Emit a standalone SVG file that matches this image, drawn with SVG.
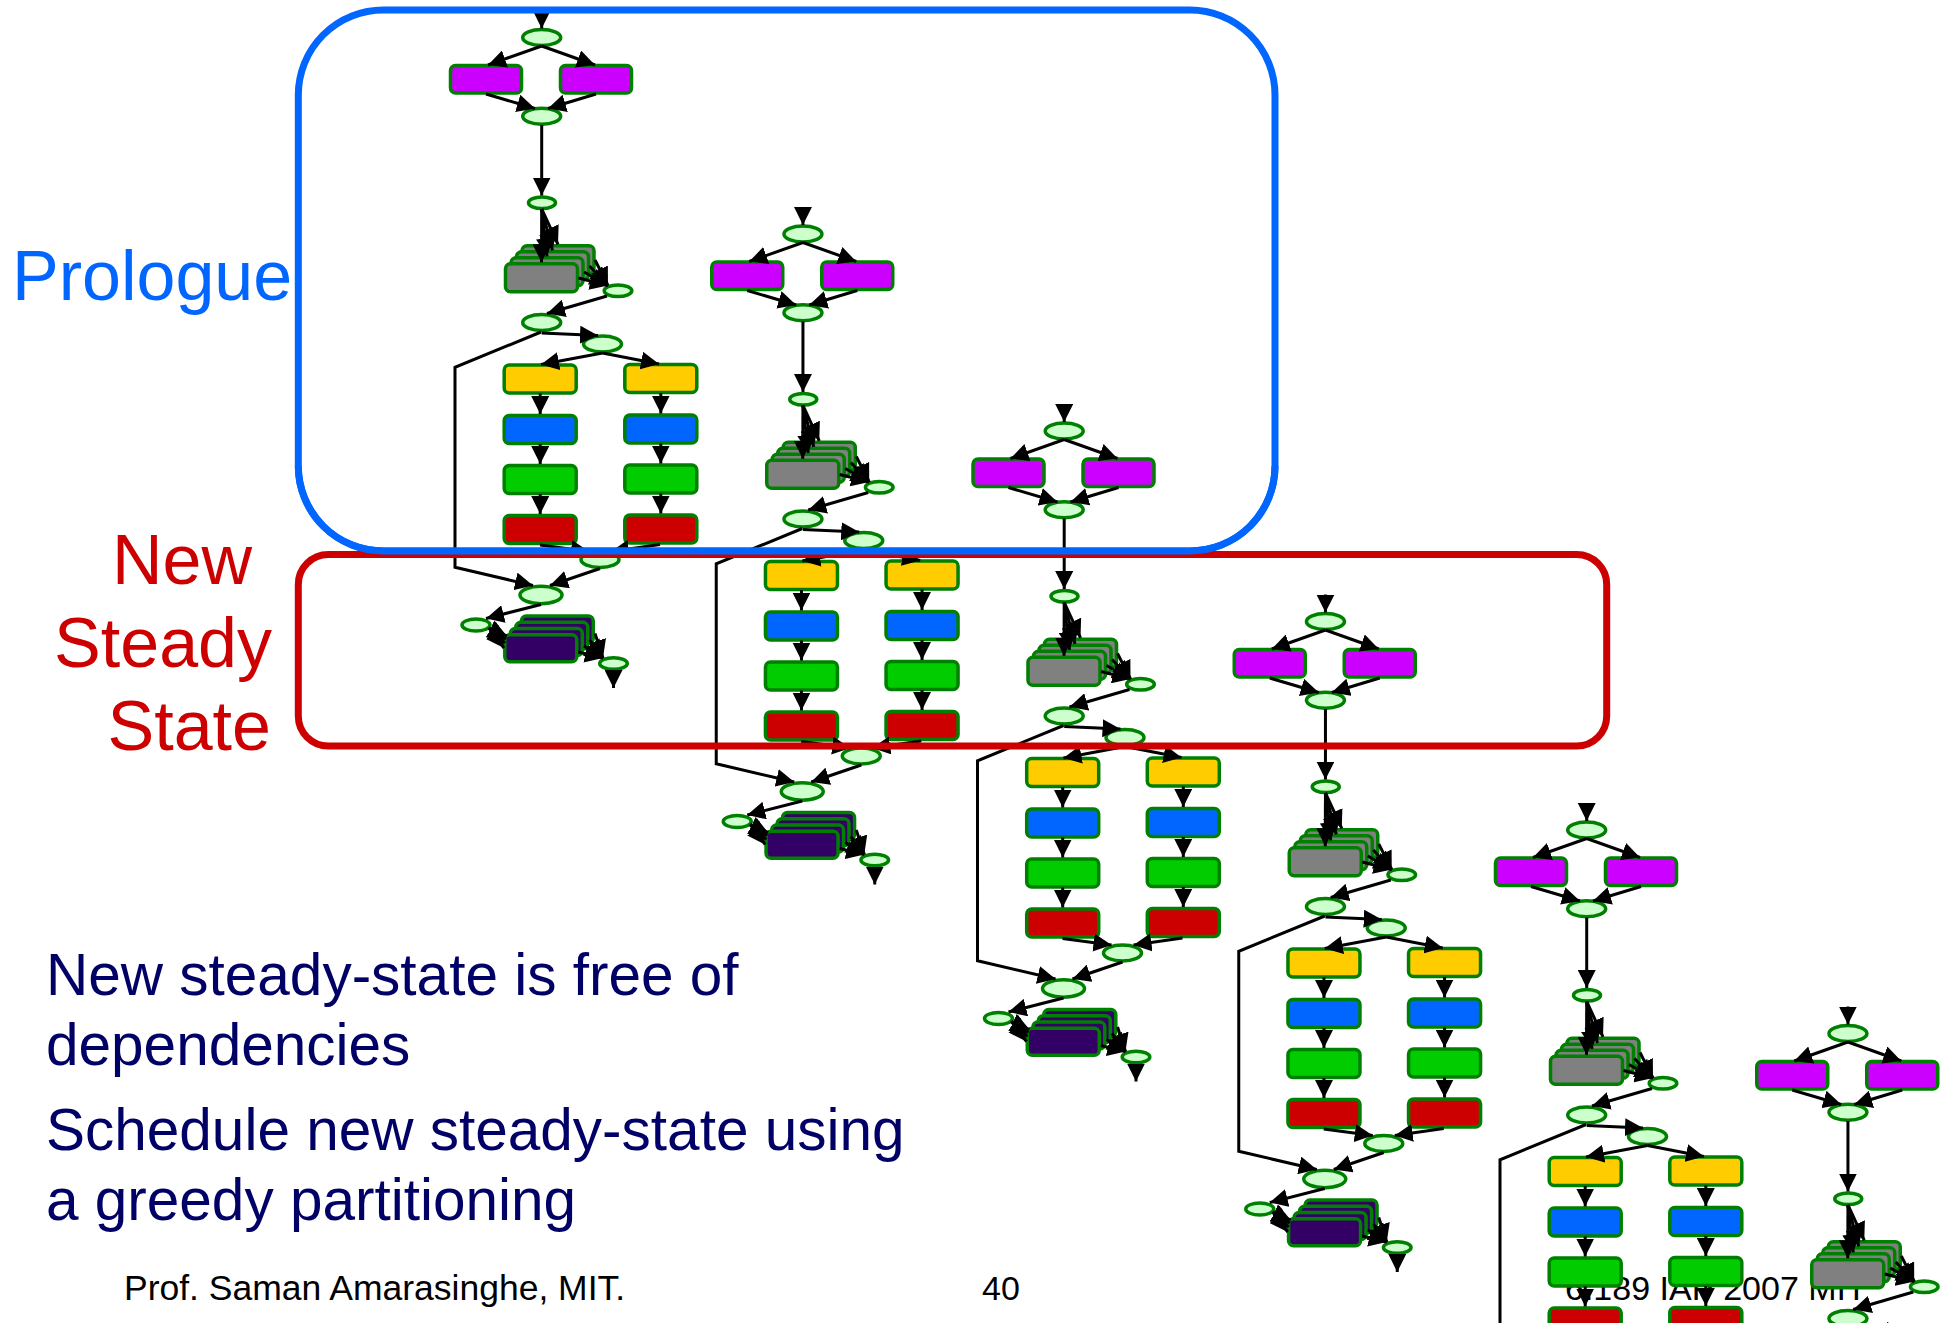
<svg xmlns="http://www.w3.org/2000/svg" xmlns:xlink="http://www.w3.org/1999/xlink" width="1951" height="1323" viewBox="0 0 1951 1323">
  <style>
    text { font-family: "Liberation Sans", Arial, Helvetica, sans-serif; }
    .buf { fill: #CCFFCC; stroke: #008000; stroke-width: 3.5; }
    .box { stroke: #008000; stroke-width: 3.5; }
    .purple { fill: #CC00FF; }
    .gray { fill: #808080; }
    .yellow { fill: #FFCC00; }
    .blue { fill: #0066FF; }
    .green { fill: #00CC00; }
    .red { fill: #CC0000; }
    .dark { fill: #330066; }
    .edge { fill: none; stroke: #000; stroke-width: 3; marker-end: url(#ah); }
    .frame { fill: none; stroke-width: 7; }
    .bullet { fill: #000066; font-size: 58.5px; }
    .foot { fill: #000; font-size: 34px; }
  </style>
  <defs>
    <marker id="ah" viewBox="0 0 18 18" markerWidth="18" markerHeight="18" refX="18" refY="9" orient="auto" markerUnits="userSpaceOnUse">
      <path d="M0,0 L18,9 L0,18 z" fill="#000"/>
    </marker>

    <!-- one iteration of the stream graph; repeated below at each time step -->
    <g id="stage">
      <g id="stage-nodes">
        <g id="splitter"><ellipse class="buf" cx="541.7" cy="37.5" rx="19" ry="8"/></g>
        <g id="worker-a"><rect class="box purple" x="450.5" y="65.5" width="71" height="27.5" rx="5"/></g>
        <g id="worker-b"><rect class="box purple" x="560.5" y="65.5" width="71" height="27.5" rx="5"/></g>
        <g id="joiner"><ellipse class="buf" cx="541.7" cy="116.2" rx="19" ry="8"/></g>
        <g id="relay"><ellipse class="buf" cx="542" cy="202.7" rx="13.5" ry="5.8"/></g>
        <g id="fan-stack">
          <rect class="box gray" x="522" y="245.8" width="72" height="28" rx="5"/>
          <rect class="box gray" x="516.5" y="251.8" width="72" height="28" rx="5"/>
          <rect class="box gray" x="511" y="257.8" width="72" height="28" rx="5"/>
          <rect class="box gray" x="505.5" y="263.8" width="72" height="28" rx="5"/>
        </g>
        <g id="fan-out"><ellipse class="buf" cx="618" cy="290.8" rx="13.8" ry="5.8"/></g>
        <g id="dup-split"><ellipse class="buf" cx="541.7" cy="322.5" rx="19" ry="8"/></g>
        <g id="rr-split"><ellipse class="buf" cx="602.5" cy="344" rx="19" ry="8"/></g>
        <g id="lane-a-1"><rect class="box yellow" x="504.2" y="365" width="72" height="28" rx="5"/></g>
        <g id="lane-a-2"><rect class="box blue" x="504.2" y="415.5" width="72" height="28" rx="5"/></g>
        <g id="lane-a-3"><rect class="box green" x="504.2" y="465.5" width="72" height="28" rx="5"/></g>
        <g id="lane-a-4"><rect class="box red" x="504.2" y="515.5" width="72" height="28" rx="5"/></g>
        <g id="lane-b-1"><rect class="box yellow" x="624.8" y="364.5" width="72" height="28" rx="5"/></g>
        <g id="lane-b-2"><rect class="box blue" x="624.8" y="415" width="72" height="28" rx="5"/></g>
        <g id="lane-b-3"><rect class="box green" x="624.8" y="465" width="72" height="28" rx="5"/></g>
        <g id="lane-b-4"><rect class="box red" x="624.8" y="515" width="72" height="28" rx="5"/></g>
        <g id="rr-join"><ellipse class="buf" cx="600" cy="559.5" rx="19" ry="8"/></g>
        <g id="dup-join"><ellipse class="buf" cx="541" cy="595" rx="21" ry="8.7"/></g>
        <g id="gather-in"><ellipse class="buf" cx="476" cy="625" rx="14" ry="6"/></g>
        <g id="gather-stack">
          <rect class="box dark" x="521.3" y="615.9" width="72" height="27" rx="5"/>
          <rect class="box dark" x="515.8" y="622.2" width="72" height="27" rx="5"/>
          <rect class="box dark" x="510.3" y="628.5" width="72" height="27" rx="5"/>
          <rect class="box dark" x="504.8" y="634.8" width="72" height="27" rx="5"/>
        </g>
        <g id="gather-out"><ellipse class="buf" cx="613.5" cy="663.5" rx="13.8" ry="5.8"/></g>
      </g>
      <g id="stage-edges">
        <line class="edge" x1="541.7" y1="10.5" x2="541.7" y2="28.5"/>
        <line class="edge" x1="541.7" y1="46" x2="488" y2="65"/>
        <line class="edge" x1="541.7" y1="46" x2="595" y2="65"/>
        <line class="edge" x1="486" y1="94" x2="535" y2="108.5"/>
        <line class="edge" x1="596" y1="94" x2="548" y2="108.5"/>
        <line class="edge" x1="541.7" y1="125" x2="541.7" y2="195.5"/>
        <line class="edge" x1="541.7" y1="209" x2="541.5" y2="262.3"/>
        <line class="edge" x1="541.7" y1="209" x2="547" y2="256.3"/>
        <line class="edge" x1="541.7" y1="209" x2="552.5" y2="250.3"/>
        <line class="edge" x1="541.7" y1="209" x2="558" y2="244.3"/>
        <line class="edge" x1="578.5" y1="278" x2="608" y2="285.5"/>
        <line class="edge" x1="584" y1="272" x2="608" y2="285.5"/>
        <line class="edge" x1="589.5" y1="266" x2="608" y2="285.5"/>
        <line class="edge" x1="595" y1="260" x2="608" y2="285.5"/>
        <line class="edge" x1="607" y1="296" x2="547" y2="313.5"/>
        <line class="edge" x1="541.7" y1="333" x2="598" y2="335.5"/>
        <polyline class="edge" points="541,332 455,367.3 455,567.3 533,585.5"/>
        <line class="edge" x1="602.5" y1="353" x2="541" y2="364.5"/>
        <line class="edge" x1="602.5" y1="353" x2="659" y2="364"/>
        <line class="edge" x1="540.2" y1="393.5" x2="540.2" y2="414"/>
        <line class="edge" x1="540.2" y1="444" x2="540.2" y2="464"/>
        <line class="edge" x1="540.2" y1="494" x2="540.2" y2="514"/>
        <line class="edge" x1="660.8" y1="393" x2="660.8" y2="413.5"/>
        <line class="edge" x1="660.8" y1="443.5" x2="660.8" y2="463.5"/>
        <line class="edge" x1="660.8" y1="493.5" x2="660.8" y2="513.5"/>
        <line class="edge" x1="540" y1="545" x2="589" y2="551.5"/>
        <line class="edge" x1="660" y1="544.5" x2="611" y2="551.5"/>
        <line class="edge" x1="600" y1="568.5" x2="550" y2="585.5"/>
        <line class="edge" x1="541" y1="604.5" x2="486" y2="618.5"/>
        <line class="edge" x1="489" y1="628" x2="504" y2="648"/>
        <line class="edge" x1="489" y1="628" x2="505" y2="643"/>
        <line class="edge" x1="489" y1="628" x2="506" y2="639"/>
        <line class="edge" x1="489" y1="628" x2="507" y2="636"/>
        <line class="edge" x1="578.3" y1="652" x2="603" y2="658"/>
        <line class="edge" x1="584" y1="646" x2="603" y2="658"/>
        <line class="edge" x1="589.5" y1="640" x2="603" y2="658"/>
        <line class="edge" x1="595" y1="633.5" x2="603" y2="658"/>
        <line class="edge" x1="613.5" y1="670.5" x2="613.5" y2="688"/>
      </g>
    </g>
  </defs>

  <!-- footer, partly covered by the graph -->
  <g id="footer">
    <text class="foot" x="124" y="1300" style="font-size:35.5px">Prof. Saman Amarasinghe, MIT.</text>
    <text class="foot" x="982" y="1300">40</text>
    <text class="foot" x="1565" y="1300">6.189 IAP 2007 MIT</text>
  </g>

  <!-- software-pipelined iterations, each shifted in time -->
  <g id="iterations">
    <use id="iteration-1" xlink:href="#stage" href="#stage" transform="translate(0,0)"/>
    <use id="iteration-2" xlink:href="#stage" href="#stage" transform="translate(261.25,196.5)"/>
    <use id="iteration-3" xlink:href="#stage" href="#stage" transform="translate(522.5,393.5)"/>
    <use id="iteration-4" xlink:href="#stage" href="#stage" transform="translate(783.75,584)"/>
    <use id="iteration-5" xlink:href="#stage" href="#stage" transform="translate(1045,792.5)"/>
    <use id="iteration-6" xlink:href="#stage" href="#stage" transform="translate(1306.25,996)"/>
  </g>

  <!-- phase frames -->
  <g id="prologue-frame">
    <rect class="frame" x="298.3" y="10" width="976.7" height="541" rx="85" stroke="#0066FF"/>
  </g>
  <g id="steady-frame">
    <rect class="frame" x="298.3" y="554.5" width="1308.4" height="191.5" rx="30" stroke="#CC0000"/>
  </g>
  <!-- keep the prologue frame's lower edge on top where the two meet -->
  <path d="M298.3,466 A85,85 0 0 0 383.3,551 L1190,551 A85,85 0 0 0 1275,466" fill="none" stroke="#0066FF" stroke-width="7"/>

  <g id="labels">
    <text x="12" y="300" font-size="70" fill="#0066FF">Prologue</text>
    <text x="252" y="584" font-size="70" fill="#CC0000" text-anchor="end">New</text>
    <text x="272" y="667" font-size="70" fill="#CC0000" text-anchor="end">Steady</text>
    <text x="271" y="750" font-size="70" fill="#CC0000" text-anchor="end">State</text>
  </g>

  <g id="notes">
    <text class="bullet" x="46" y="995">New steady-state is free of</text>
    <text class="bullet" x="46" y="1065">dependencies</text>
    <text class="bullet" x="46" y="1150">Schedule new steady-state using</text>
    <text class="bullet" x="46" y="1220">a greedy partitioning</text>
  </g>
</svg>
